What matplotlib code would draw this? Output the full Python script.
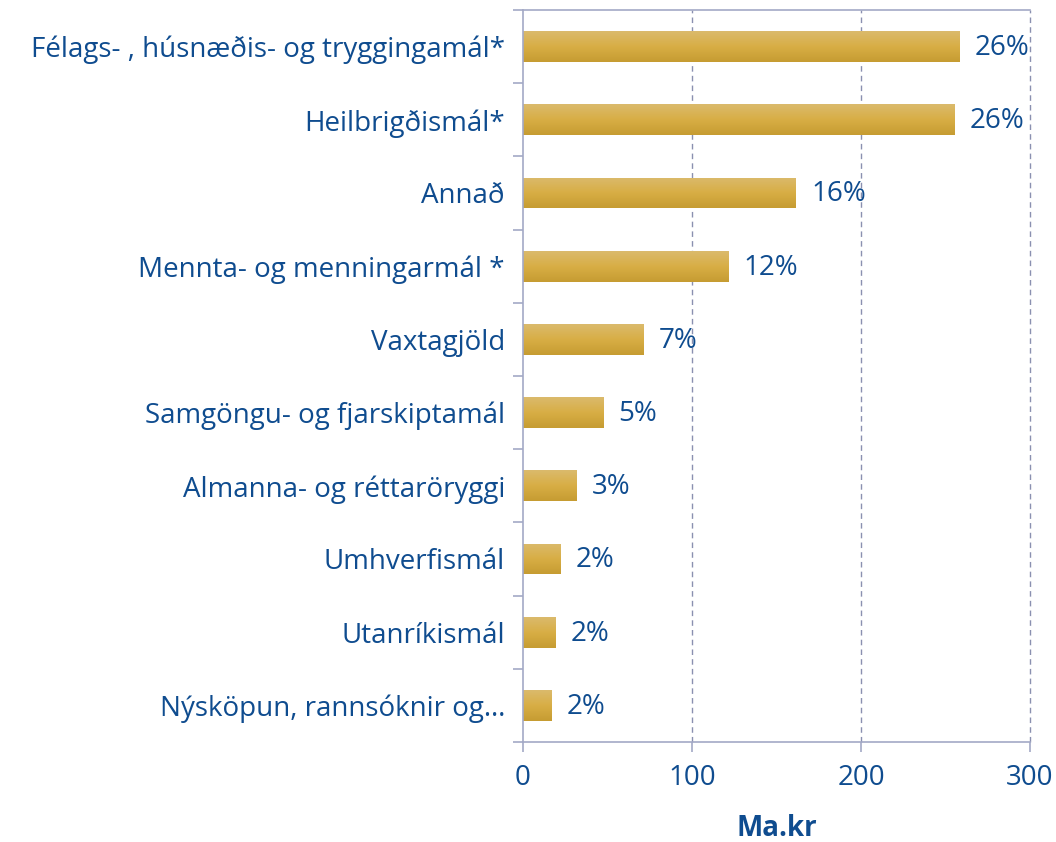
import matplotlib
matplotlib.use("Agg")
import matplotlib.pyplot as plt
import numpy as np
from matplotlib.colors import LinearSegmentedColormap

categories = ["Félags- , húsnæðis- og tryggingamál*", "Heilbrigðismál*", "Annað",
              "Mennta- og menningarmál *", "Vaxtagjöld", "Samgöngu- og fjarskiptamál",
              "Almanna- og réttaröryggi", "Umhverfismál", "Utanríkismál",
              "Nýsköpun, rannsóknir og…"]
values = [258.5, 255.5, 161.5, 121.5, 71.5, 47.5, 31.5, 22, 19, 17]
pct_labels = ["26%", "26%", "16%", "12%", "7%", "5%", "3%", "2%", "2%", "2%"]
xticks = [0, 100, 200, 300]

plt.rcParams['font.family'] = ['Open Sans', 'DejaVu Sans']
txt = '#0F4C8F'
axc = '#A3A9C6'
fs = 20

fig = plt.figure(figsize=(10.56, 8.42), dpi=100)
ax = fig.add_axes([523/1056, 1-742/842, (1030-523)/1056, (742-10)/842])

n = len(categories)
y = np.arange(n)
bars = ax.barh(y, values, height=0.42, color='none', edgecolor='none')
cmap = LinearSegmentedColormap.from_list('g', ['#C69C32', '#D8AE45', '#DBBA6C'])
grad = np.linspace(0, 1, 64).reshape(-1, 1)
for b, lab in zip(bars, pct_labels):
    x0, y0 = b.get_x(), b.get_y()
    w, h = b.get_width(), b.get_height()
    im = ax.imshow(grad, extent=[x0, x0 + w, y0 + h, y0], aspect='auto', cmap=cmap,
                   origin='lower', zorder=2)
    im.set_clip_path(b)
    ax.text(x0 + w + 9, y0 + h/2 + 0.02, lab, va='center', ha='left',
            color=txt, fontsize=fs, zorder=3)

ax.set_xlim(0, 300)
ax.set_ylim(n - 0.5, -0.5)
ax.set_xticks(xticks)
ax.set_xticklabels([str(t) for t in xticks], fontsize=fs, color=txt)
ax.set_yticks(y)
ax.set_yticklabels(categories, fontsize=fs, color=txt)
ax.tick_params(axis='y', length=0, pad=13)
ax.set_yticks(np.arange(-0.5, n, 1), minor=True)
ax.tick_params(axis='y', which='minor', length=7, color=axc, width=1.2)
ax.tick_params(axis='x', length=7, color=axc, width=1.2, pad=9)
fig.text(776.5/1056, 1-828/842, "Ma.kr", fontsize=fs, fontweight='bold', color=txt,
         ha='center', va='center')

for s in ['left', 'bottom', 'top']:
    ax.spines[s].set_color(axc)
    ax.spines[s].set_linewidth(1.2)
ax.spines['right'].set_visible(False)
for t in xticks[1:]:
    ax.axvline(t, color='#8A90B0', linestyle=(0, (4, 3)), linewidth=1, zorder=1, clip_on=False)

fig.savefig("out.png", dpi=100)
